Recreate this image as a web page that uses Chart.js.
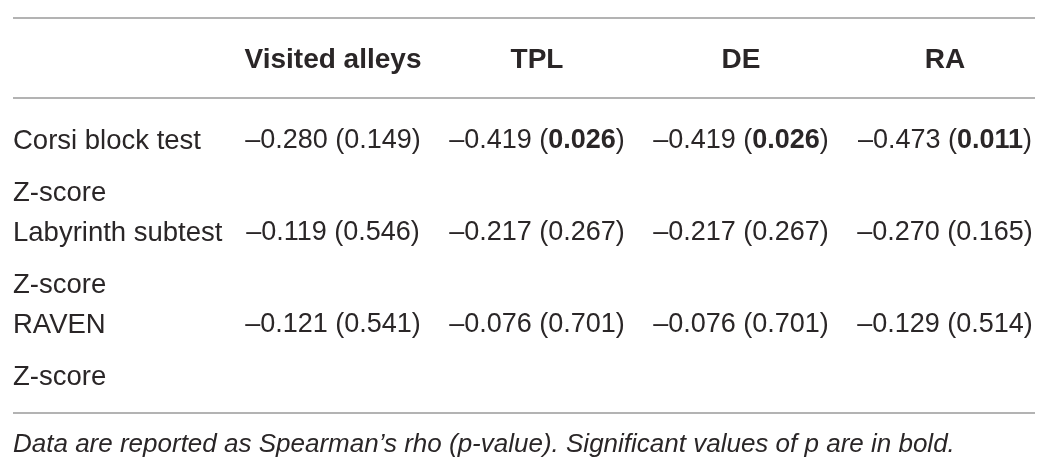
<!DOCTYPE html>
<html>
<head>
<meta charset="utf-8">
<script src="https://cdn.jsdelivr.net/npm/chart.js@4/dist/chart.umd.min.js"></script>
<style>
html, body { margin: 0; padding: 0; background: #fff; }
#wrap { width: 1050px; height: 476px; position: relative; }
</style>
</head>
<body>
<div id="wrap"><canvas id="tableChart"></canvas></div>
<script>
// table content
const columns = ['Visited alleys', 'TPL', 'DE', 'RA'];
const rowNames = ['Corsi block test', 'Labyrinth subtest', 'RAVEN'];
const rowUnit = 'Z-score';

// Spearman's rho per column, rows in rowNames order
const rhoVisited = [-0.280, -0.119, -0.121];
const rhoTPL = [-0.419, -0.217, -0.076];
const rhoDE = [-0.419, -0.217, -0.076];
const rhoRA = [-0.473, -0.270, -0.129];

// p-values per column
const pVisited = [0.149, 0.546, 0.541];
const pTPL = [0.026, 0.267, 0.701];
const pDE = [0.026, 0.267, 0.701];
const pRA = [0.011, 0.165, 0.514];

const alpha = 0.05;
const footnote = 'Data are reported as Spearman\u2019s rho (p-value). Significant values of p are in bold.';

const ink = '#2a2627';
const ruleColor = '#9a9a9a';
const family = '"Liberation Sans", Arial, sans-serif';
const lineGap = 52;
const nudge = 2; // canvas 'middle' sits a bit high vs the scan

const rhoCols = [rhoVisited, rhoTPL, rhoDE, rhoRA];
const pCols = [pVisited, pTPL, pDE, pRA];

const datasets = columns.map(function (col, i) {
    return {
        label: col,
        data: rowNames.map(function (row, j) {
            return { x: col, y: row, rho: rhoCols[i][j], p: pCols[i][j] };
        }),
        pointRadius: 0,
        pointHoverRadius: 0
    };
});

function drawCell(ctx, cell, cx, cy) {
    var parts = [
        ['\u2013' + Math.abs(cell.rho).toFixed(3) + ' (', false],
        [cell.p.toFixed(3), cell.p < alpha],
        [')', false]
    ];
    var total = 0;
    parts.forEach(function (part) {
        ctx.font = (part[1] ? 'bold ' : '') + '27px ' + family;
        part.push(ctx.measureText(part[0]).width);
        total += part[2];
    });
    var px = cx - total / 2;
    ctx.textAlign = 'left';
    parts.forEach(function (part) {
        ctx.font = (part[1] ? 'bold ' : '') + '27px ' + family;
        ctx.fillText(part[0], px, cy);
        px += part[2];
    });
}

const tablePlugin = {
    id: 'tableText',
    afterDatasetsDraw(chart) {
        const ctx = chart.ctx;
        const area = chart.chartArea;
        const xs = chart.scales.x;
        const ys = chart.scales.y;
        const half = lineGap / 2;

        ctx.save();
        // horizontal rules
        ctx.strokeStyle = ruleColor;
        ctx.lineWidth = 1.5;
        [area.top - 101, area.top - 21, area.bottom + 18].forEach(function (ry) {
            ctx.beginPath();
            ctx.moveTo(13, ry);
            ctx.lineTo(1035, ry);
            ctx.stroke();
        });

        ctx.fillStyle = ink;
        ctx.textBaseline = 'middle';

        // column headers
        ctx.font = 'bold 28px ' + family;
        ctx.textAlign = 'center';
        columns.forEach(function (c, i) {
            ctx.fillText(c, xs.getPixelForValue(i), area.top - 61 + nudge);
        });

        // row labels
        ctx.font = '27.5px ' + family;
        ctx.textAlign = 'left';
        rowNames.forEach(function (r, j) {
            const py = ys.getPixelForValue(j) + nudge;
            ctx.fillText(r, 13, py - half);
            ctx.fillText(rowUnit, 13, py + half);
        });

        // cells
        chart.data.datasets.forEach(function (ds, i) {
            chart.getDatasetMeta(i).data.forEach(function (pt, j) {
                drawCell(ctx, ds.data[j], pt.x, pt.y - half + nudge);
            });
        });

        // footnote
        ctx.font = 'italic 26px ' + family;
        ctx.textAlign = 'left';
        ctx.fillText(footnote, 13, area.bottom + 48 + nudge);
        ctx.restore();
    }
};

new Chart(document.getElementById('tableChart'), {
    type: 'scatter',
    data: { datasets: datasets },
    options: {
        responsive: true,
        maintainAspectRatio: false,
        animation: false,
        events: [],
        layout: { padding: { left: 231, right: 3, top: 119, bottom: 81 } },
        plugins: { legend: { display: false }, tooltip: { enabled: false } },
        scales: {
            x: { type: 'category', labels: columns, offset: true, display: false },
            y: { type: 'category', labels: rowNames, offset: true, display: false }
        }
    },
    plugins: [tablePlugin]
});
</script>
</body>
</html>
